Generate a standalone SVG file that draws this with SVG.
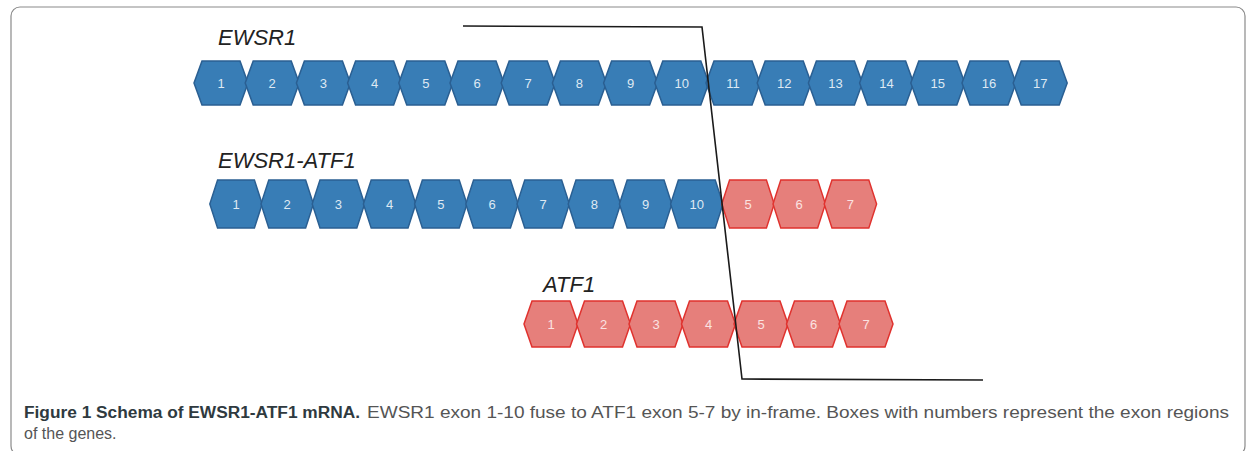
<svg xmlns="http://www.w3.org/2000/svg" xmlns:xlink="http://www.w3.org/1999/xlink" width="1247" height="451" viewBox="0 0 1247 451">
<style>
.frame{fill:#fff;stroke:#8a8a8a;stroke-width:1.2}
.blue{fill:#387db6;stroke:#2a5f92;stroke-width:1.5}
.red{fill:#e67f7b;stroke:#e0322e;stroke-width:1.5}
.lb{font-family:"Liberation Sans",Arial,sans-serif;font-size:13px;text-anchor:middle;fill:#dfe9f3}
.lr{font-family:"Liberation Sans",Arial,sans-serif;font-size:13px;text-anchor:middle;fill:#fbe3e2}
.title{font-family:"Liberation Sans",Arial,sans-serif;font-style:italic;font-size:22px;fill:#222}
.cap{font-family:"Liberation Sans",Arial,sans-serif;font-size:16px}
.capb{font-weight:bold;fill:#2f3a3f}
.capn{fill:#555}
.conn{fill:none;stroke:#1a1a1a;stroke-width:1.6}
</style>
<defs>
<polygon id="hex" points="-27,0 -19,-23 19,-23 27,0 19,23 -19,23"/>
</defs>
<rect class="frame" x="11" y="7" width="1234" height="448" rx="9"/>
<g id="labels">
<text class="title" x="218" y="45">EWSR1</text>
<text class="title" x="218" y="168">EWSR1-ATF1</text>
<text class="title" x="543" y="292">ATF1</text>
</g>
<g id="ewsr1">
<g id="e1"><use xlink:href="#hex" class="blue" transform="translate(221,83) scale(1,0.96)"/><text class="lb" x="221" y="88">1</text></g>
<g id="e2"><use xlink:href="#hex" class="blue" transform="translate(272.2,83) scale(1,0.96)"/><text class="lb" x="272.2" y="88">2</text></g>
<g id="e3"><use xlink:href="#hex" class="blue" transform="translate(323.4,83) scale(1,0.96)"/><text class="lb" x="323.4" y="88">3</text></g>
<g id="e4"><use xlink:href="#hex" class="blue" transform="translate(374.6,83) scale(1,0.96)"/><text class="lb" x="374.6" y="88">4</text></g>
<g id="e5"><use xlink:href="#hex" class="blue" transform="translate(425.8,83) scale(1,0.96)"/><text class="lb" x="425.8" y="88">5</text></g>
<g id="e6"><use xlink:href="#hex" class="blue" transform="translate(477,83) scale(1,0.96)"/><text class="lb" x="477" y="88">6</text></g>
<g id="e7"><use xlink:href="#hex" class="blue" transform="translate(528.2,83) scale(1,0.96)"/><text class="lb" x="528.2" y="88">7</text></g>
<g id="e8"><use xlink:href="#hex" class="blue" transform="translate(579.4,83) scale(1,0.96)"/><text class="lb" x="579.4" y="88">8</text></g>
<g id="e9"><use xlink:href="#hex" class="blue" transform="translate(630.6,83) scale(1,0.96)"/><text class="lb" x="630.6" y="88">9</text></g>
<g id="e10"><use xlink:href="#hex" class="blue" transform="translate(681.8,83) scale(1,0.96)"/><text class="lb" x="681.8" y="88">10</text></g>
<g id="e11"><use xlink:href="#hex" class="blue" transform="translate(733,83) scale(1,0.96)"/><text class="lb" x="733" y="88">11</text></g>
<g id="e12"><use xlink:href="#hex" class="blue" transform="translate(784.2,83) scale(1,0.96)"/><text class="lb" x="784.2" y="88">12</text></g>
<g id="e13"><use xlink:href="#hex" class="blue" transform="translate(835.4,83) scale(1,0.96)"/><text class="lb" x="835.4" y="88">13</text></g>
<g id="e14"><use xlink:href="#hex" class="blue" transform="translate(886.6,83) scale(1,0.96)"/><text class="lb" x="886.6" y="88">14</text></g>
<g id="e15"><use xlink:href="#hex" class="blue" transform="translate(937.8,83) scale(1,0.96)"/><text class="lb" x="937.8" y="88">15</text></g>
<g id="e16"><use xlink:href="#hex" class="blue" transform="translate(989,83) scale(1,0.96)"/><text class="lb" x="989" y="88">16</text></g>
<g id="e17"><use xlink:href="#hex" class="blue" transform="translate(1040.2,83) scale(1,0.96)"/><text class="lb" x="1040.2" y="88">17</text></g>
</g>
<g id="fusion">
<g id="f1"><use xlink:href="#hex" class="blue" transform="translate(236,204) scale(0.97,1.04)"/><text class="lb" x="236" y="209">1</text></g>
<g id="f2"><use xlink:href="#hex" class="blue" transform="translate(287.2,204) scale(0.97,1.04)"/><text class="lb" x="287.2" y="209">2</text></g>
<g id="f3"><use xlink:href="#hex" class="blue" transform="translate(338.4,204) scale(0.97,1.04)"/><text class="lb" x="338.4" y="209">3</text></g>
<g id="f4"><use xlink:href="#hex" class="blue" transform="translate(389.6,204) scale(0.97,1.04)"/><text class="lb" x="389.6" y="209">4</text></g>
<g id="f5"><use xlink:href="#hex" class="blue" transform="translate(440.8,204) scale(0.97,1.04)"/><text class="lb" x="440.8" y="209">5</text></g>
<g id="f6"><use xlink:href="#hex" class="blue" transform="translate(492,204) scale(0.97,1.04)"/><text class="lb" x="492" y="209">6</text></g>
<g id="f7"><use xlink:href="#hex" class="blue" transform="translate(543.2,204) scale(0.97,1.04)"/><text class="lb" x="543.2" y="209">7</text></g>
<g id="f8"><use xlink:href="#hex" class="blue" transform="translate(594.4,204) scale(0.97,1.04)"/><text class="lb" x="594.4" y="209">8</text></g>
<g id="f9"><use xlink:href="#hex" class="blue" transform="translate(645.6,204) scale(0.97,1.04)"/><text class="lb" x="645.6" y="209">9</text></g>
<g id="f10"><use xlink:href="#hex" class="blue" transform="translate(696.8,204) scale(0.97,1.04)"/><text class="lb" x="696.8" y="209">10</text></g>
<g id="f11"><use xlink:href="#hex" class="red" transform="translate(748,204) scale(0.97,1.04)"/><text class="lr" x="748" y="209">5</text></g>
<g id="f12"><use xlink:href="#hex" class="red" transform="translate(799.2,204) scale(0.97,1.04)"/><text class="lr" x="799.2" y="209">6</text></g>
<g id="f13"><use xlink:href="#hex" class="red" transform="translate(850.4,204) scale(0.97,1.04)"/><text class="lr" x="850.4" y="209">7</text></g>
</g>
<g id="atf1">
<g id="a1"><use xlink:href="#hex" class="red" transform="translate(551,324)"/><text class="lr" x="551" y="329">1</text></g>
<g id="a2"><use xlink:href="#hex" class="red" transform="translate(603.5,324)"/><text class="lr" x="603.5" y="329">2</text></g>
<g id="a3"><use xlink:href="#hex" class="red" transform="translate(656,324)"/><text class="lr" x="656" y="329">3</text></g>
<g id="a4"><use xlink:href="#hex" class="red" transform="translate(708.5,324)"/><text class="lr" x="708.5" y="329">4</text></g>
<g id="a5"><use xlink:href="#hex" class="red" transform="translate(761,324)"/><text class="lr" x="761" y="329">5</text></g>
<g id="a6"><use xlink:href="#hex" class="red" transform="translate(813.5,324)"/><text class="lr" x="813.5" y="329">6</text></g>
<g id="a7"><use xlink:href="#hex" class="red" transform="translate(866,324)"/><text class="lr" x="866" y="329">7</text></g>
</g>
<g id="connectors">
<polyline class="conn" points="463,26 702,27 742,379 983,380"/>
</g>
<g id="caption">
<text class="cap capb" x="24" y="418" textLength="336" lengthAdjust="spacingAndGlyphs">Figure 1 Schema of EWSR1-ATF1 mRNA.</text>
<text class="cap capn" x="367" y="418" textLength="862" lengthAdjust="spacingAndGlyphs">EWSR1 exon 1-10 fuse to ATF1 exon 5-7 by in-frame. Boxes with numbers represent the exon regions</text>
<text class="cap capn" x="24" y="439">of the genes.</text>
</g>
</svg>
